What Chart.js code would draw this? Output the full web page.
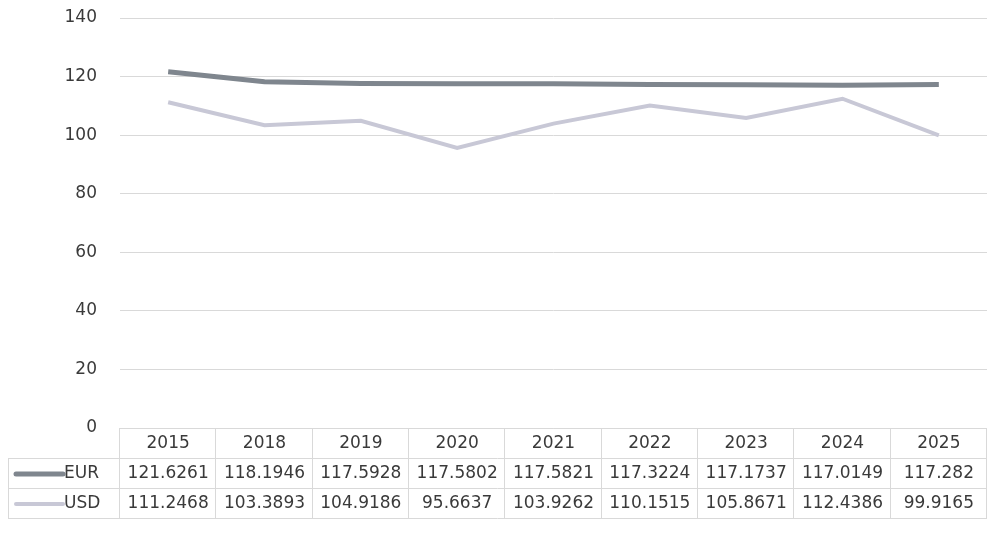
<!DOCTYPE html>
<html>
<head>
<meta charset="utf-8">
<script src="https://cdn.jsdelivr.net/npm/chart.js@4"></script>
<style>
  html, body { margin: 0; padding: 0; background: #fff; }
  #wrap { width: 987px; height: 540px; }
</style>
</head>
<body>
<div id="wrap"><canvas id="c1" width="987" height="540"></canvas></div>
<script>
// data
const years = ['2015', '2018', '2019', '2020', '2021', '2022', '2023', '2024', '2025'];
const eurValues = [121.6261, 118.1946, 117.5928, 117.5802, 117.5821, 117.3224, 117.1737, 117.0149, 117.282];
const usdValues = [111.2468, 103.3893, 104.9186, 95.6637, 103.9262, 110.1515, 105.8671, 112.4386, 99.9165];
const eurLabels = ['121.6261', '118.1946', '117.5928', '117.5802', '117.5821', '117.3224', '117.1737', '117.0149', '117.282'];
const usdLabels = ['111.2468', '103.3893', '104.9186', '95.6637', '103.9262', '110.1515', '105.8671', '112.4386', '99.9165'];

const eurColor = '#7f868e';
const usdColor = '#c8c8d6';
const textColor = '#3a3a3a';
const lineGrey = '#d9d9d9';
const fontFamily = '"DejaVu Sans", sans-serif';
const font = '17px ' + fontFamily;

// draws the excel-like data table below the plot
const dataTable = {
  id: 'dataTable',
  afterDraw(chart) {
    const ctx = chart.ctx;
    const area = chart.chartArea;
    const xs = chart.scales.x;
    const rowH = 30;
    const top = area.bottom;
    const colW = (area.right - area.left) / years.length;
    const legendLeft = 8;

    ctx.save();
    ctx.strokeStyle = lineGrey;
    ctx.lineWidth = 1;

    // horizontal lines
    ctx.beginPath();
    ctx.moveTo(area.left, top + 0.5);
    ctx.lineTo(area.right, top + 0.5);
    for (let r = 1; r <= 3; r++) {
      ctx.moveTo(legendLeft, top + r * rowH + 0.5);
      ctx.lineTo(area.right, top + r * rowH + 0.5);
    }
    // vertical lines
    for (let i = 0; i <= years.length; i++) {
      const x = Math.round(area.left + i * colW) - 0.5;
      ctx.moveTo(x, top);
      ctx.lineTo(x, top + 3 * rowH);
    }
    ctx.moveTo(legendLeft + 0.5, top + rowH);
    ctx.lineTo(legendLeft + 0.5, top + 3 * rowH);
    ctx.stroke();

    ctx.font = font;
    ctx.fillStyle = textColor;
    ctx.textAlign = 'center';
    ctx.textBaseline = 'middle';
    years.forEach((y, i) => {
      const cx = xs.getPixelForValue(i);
      ctx.fillText(y, cx, top + rowH / 2 + 1);
      ctx.fillText(eurLabels[i], cx, top + rowH * 1.5 + 1);
      ctx.fillText(usdLabels[i], cx, top + rowH * 2.5 + 1);
    });

    // legend keys
    const rows = [
      { name: 'EUR', color: eurColor, w: 5 },
      { name: 'USD', color: usdColor, w: 4 }
    ];
    rows.forEach((r, k) => {
      const cy = top + rowH * (1.5 + k) + 1;
      ctx.strokeStyle = r.color;
      ctx.lineWidth = r.w;
      ctx.lineCap = 'round';
      ctx.beginPath();
      ctx.moveTo(16, cy);
      ctx.lineTo(63, cy);
      ctx.stroke();
      ctx.textAlign = 'left';
      ctx.fillText(r.name, 64, cy);
    });
    ctx.restore();
  }
};

const ctx = document.getElementById('c1').getContext('2d');
const myChart = new Chart(ctx, {
  type: 'line',
  data: {
    labels: years,
    datasets: [{
      label: 'EUR',
      data: eurValues,
      borderColor: eurColor,
      borderWidth: 5,
      pointRadius: 0,
      tension: 0,
      fill: false
    }, {
      label: 'USD',
      data: usdValues,
      borderColor: usdColor,
      borderWidth: 4,
      pointRadius: 0,
      tension: 0,
      fill: false
    }]
  },
  options: {
    responsive: false,
    animation: false,
    layout: { padding: { top: 18, bottom: 112, right: 0, left: 0 } },
    plugins: {
      legend: { display: false },
      tooltip: { enabled: false }
    },
    scales: {
      x: {
        display: false,
        offset: true
      },
      y: {
        min: 0,
        max: 140,
        ticks: {
          stepSize: 20,
          color: textColor,
          font: { family: fontFamily, size: 17 },
          padding: 23
        },
        grid: { color: lineGrey, drawTicks: false },
        border: { display: false },
        afterFit(scale) {
          scale.width = 120;
          scale.paddingTop = 0;
          scale.paddingBottom = 0;
        }
      }
    }
  },
  plugins: [dataTable]
});
</script>
</body>
</html>
